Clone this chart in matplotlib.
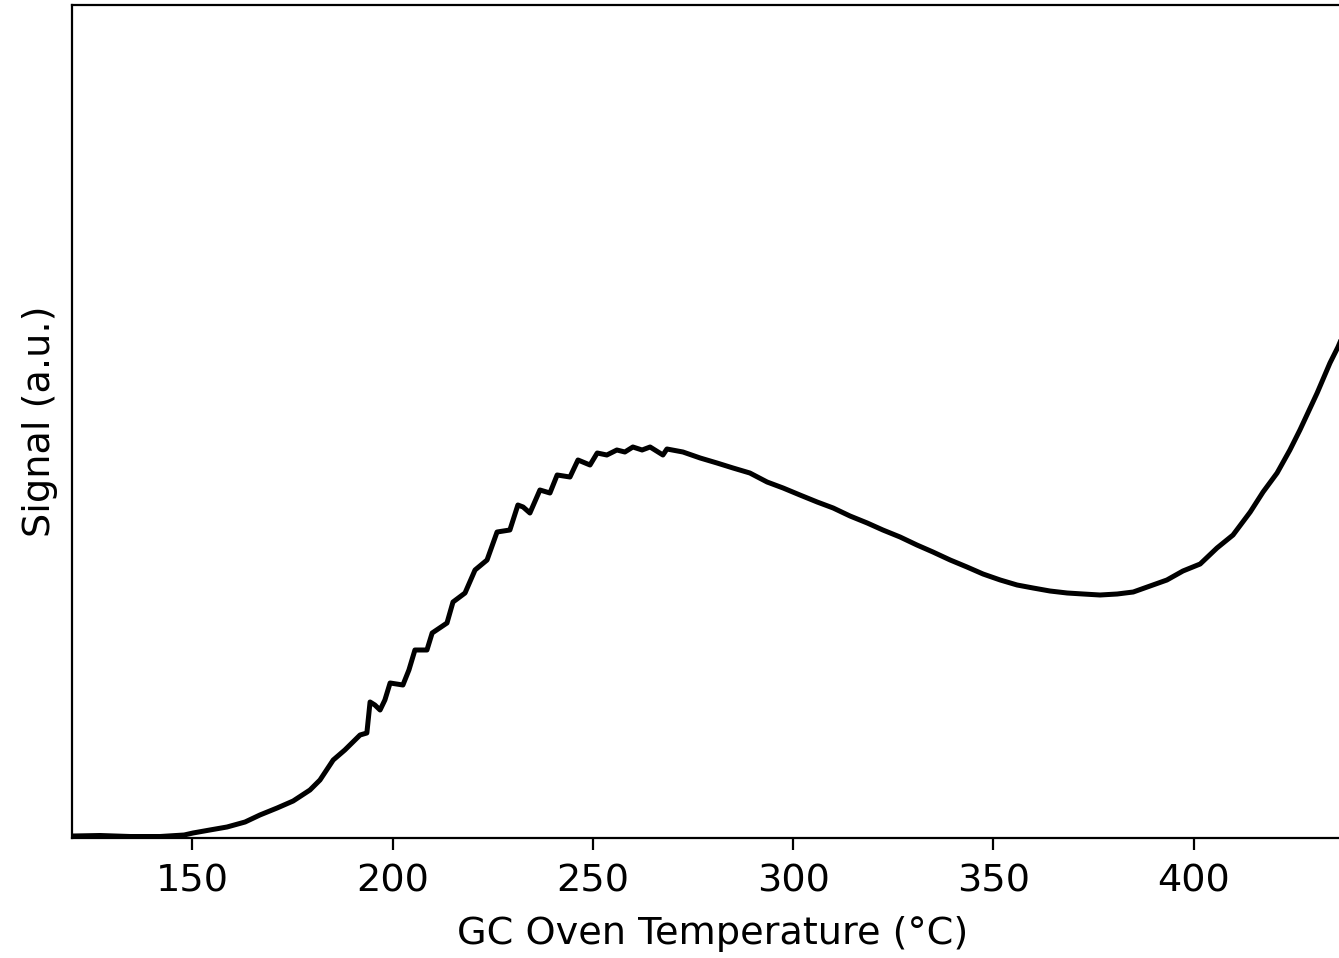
import matplotlib
matplotlib.use("Agg")
import matplotlib.pyplot as plt

# GC oven temperature (°C) and detector signal (a.u.)
temperature = [
    120.2, 127.0, 134.5, 142.0, 148.0, 150.2, 154.4, 158.7, 163.2, 166.9,
    171.2, 175.2, 179.4, 181.9, 185.2, 188.1, 191.9, 193.6, 194.4, 195.6,
    196.9, 198.1, 199.4, 202.6, 204.1, 205.6, 208.6, 209.9, 213.6, 215.1,
    218.1, 220.6, 223.6, 226.1, 229.3, 231.3, 232.6, 234.3, 236.8, 239.3,
    241.1, 244.3, 246.3, 249.3, 251.1, 253.5, 256.0, 258.0, 260.0, 262.3,
    264.3, 267.5, 268.5, 272.5, 276.8, 281.0, 285.0, 289.2, 293.5, 297.5,
    301.7, 306.0, 310.0, 314.2, 318.5, 322.4, 326.7, 330.9, 334.9, 339.2,
    343.4, 347.4, 351.7, 355.9, 359.9, 364.1, 368.4, 372.4, 376.6, 380.9,
    384.9, 389.1, 393.3, 397.3, 401.6, 405.8, 409.8, 414.1, 417.3, 420.8,
    424.0, 426.5, 430.8, 434.0, 436.0, 437.5,
]
signal = [
    2, 2.5, 1.5, 1.5, 3, 5, 8, 11, 16, 23,
    30, 37, 48, 58, 78, 88, 103, 105, 136, 133,
    128, 138, 155, 153, 168, 188, 188, 205, 215, 236,
    245, 268, 278, 306, 308, 333, 331, 325, 348, 345,
    363, 361, 378, 373, 385, 383, 388, 386, 391, 388,
    391, 383, 389, 386, 380, 375, 370, 365, 356, 350,
    343, 336, 330, 322, 315, 308, 301, 293, 286, 278,
    271, 264, 258, 253, 250, 247, 245, 244, 243, 244,
    246, 252, 258, 267, 274, 290, 303, 326, 346, 365,
    388, 408, 445, 475, 491, 505,
]

fig = plt.figure(figsize=(13.39, 9.58), dpi=100)
ax = fig.add_axes([72 / 1339, 120 / 958, 1282 / 1339, 833 / 958])

ax.plot(temperature, signal, color="black", linewidth=3.6, solid_joinstyle="round")

ax.set_xlim(120, 440)
ax.set_ylim(0, 833)
ax.set_yticks([])
ax.set_xticks([150, 200, 250, 300, 350, 400])
ax.tick_params(axis="x", labelsize=27.5, length=8.6, width=1.6, pad=10)
for spine in ax.spines.values():
    spine.set_linewidth(1.6)

ax.set_xlabel("GC Oven Temperature (°C)", fontsize=27.5, labelpad=12)
ax.set_ylabel("Signal (a.u.)", fontsize=27.5, labelpad=10)

fig.savefig("out.png", dpi=100)
